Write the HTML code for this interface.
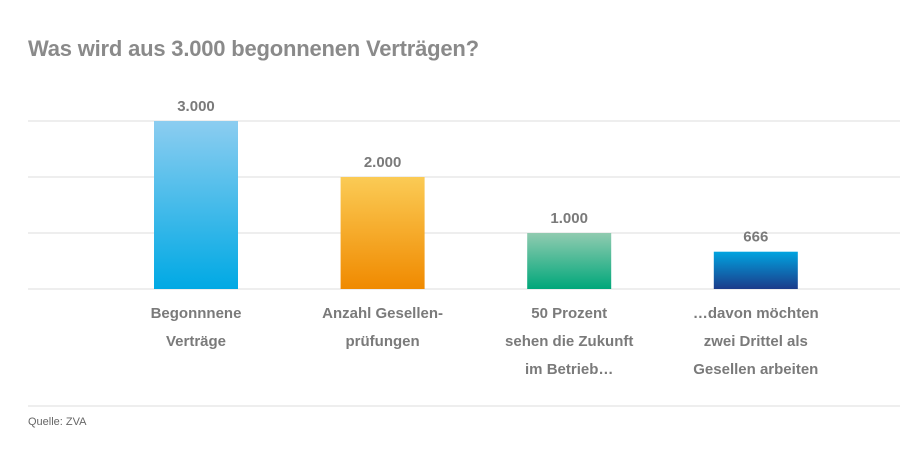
<!DOCTYPE html>
<html><head><meta charset="utf-8"><style>
body{margin:0;background:#fff;font-family:"Liberation Sans",sans-serif;}
#wrap{position:relative;width:900px;height:475px;overflow:hidden;}
.t{position:absolute;left:28px;top:36px;font-size:22px;font-weight:bold;color:#8a8a8a;letter-spacing:-0.2px;}
.src{position:absolute;left:28px;top:416px;font-size:11px;color:#666;}
</style></head><body>
<div id="wrap">
<div class="t">Was wird aus 3.000 begonnenen Verträgen?</div>
<svg id="svg" width="900" height="475" style="position:absolute;left:0;top:0">
<defs>
<linearGradient id="g0" x1="0" y1="0" x2="0" y2="1"><stop offset="0" stop-color="#8ccdf0"/><stop offset="1" stop-color="#00a9e4"/></linearGradient>
<linearGradient id="g1" x1="0" y1="0" x2="0" y2="1"><stop offset="0" stop-color="#fbcb55"/><stop offset="1" stop-color="#f08a00"/></linearGradient>
<linearGradient id="g2" x1="0" y1="0" x2="0" y2="1"><stop offset="0" stop-color="#90cbb0"/><stop offset="1" stop-color="#00a77a"/></linearGradient>
<linearGradient id="g3" x1="0" y1="0" x2="0" y2="1"><stop offset="0" stop-color="#00a4e0"/><stop offset="1" stop-color="#1b3b8a"/></linearGradient>
</defs>
</svg>
<div class="src">Quelle: ZVA</div>
</div>
<script>
const categories=[["Begonnnene","Verträge"],["Anzahl Gesellen-","prüfungen"],["50 Prozent","sehen die Zukunft","im Betrieb…"],["…davon möchten","zwei Drittel als","Gesellen arbeiten"]];
const values=[3000,2000,1000,666];
const valueLabels=["3.000","2.000","1.000","666"];
const gridTicks=[0,1000,2000,3000];
const svg=document.getElementById('svg');
const NS='http://www.w3.org/2000/svg';
const y=v=>289-v*0.056;
const x=i=>196+i*186.6;
function mk(t,a){const e=document.createElementNS(NS,t);for(const k in a)e.setAttribute(k,a[k]);svg.appendChild(e);return e;}
gridTicks.forEach(v=>{const l=mk('line',{x1:28,x2:900,y1:y(v),y2:y(v),stroke:'#dcdcdc','stroke-width':1});

});
const bl=mk('line',{x1:28,x2:900,y1:406,y2:406,stroke:'#dcdcdc','stroke-width':1});


values.forEach((v,i)=>{
const r=mk('rect',{x:x(i)-42,y:y(v),width:84,height:289-y(v),fill:'url(#g'+i+')'});


const t=mk('text',{x:x(i),y:y(v)-10,'text-anchor':'middle','font-size':15,'font-weight':'bold',fill:'#7a7a7a'});
t.textContent=valueLabels[i];


categories[i].forEach((s,j)=>{const c=mk('text',{x:x(i),y:318+j*28,'text-anchor':'middle','font-size':15,'font-weight':'bold',fill:'#7a7a7a'});
c.textContent=s;

});
});
</script>
</body></html>
